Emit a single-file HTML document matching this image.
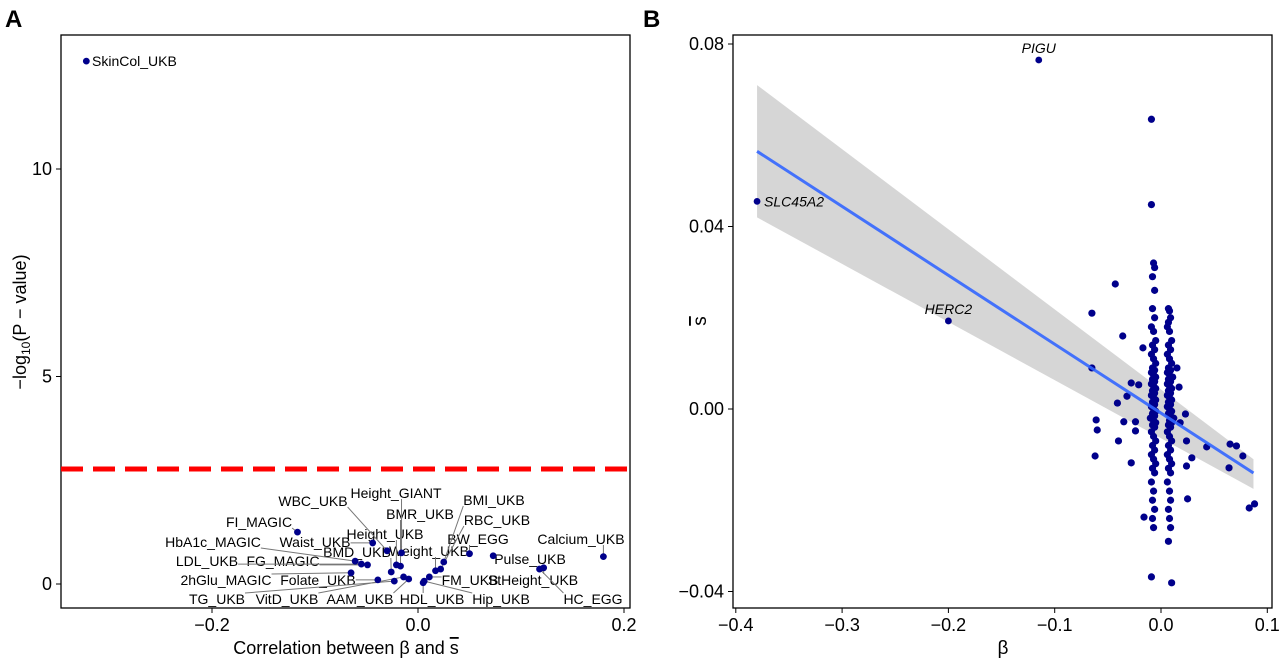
<!DOCTYPE html>
<html><head><meta charset="utf-8"><style>
html,body{margin:0;padding:0;background:#fff;}
svg{display:block;font-family:"Liberation Sans",sans-serif;}
</style></head><body>
<svg id="fig" width="1280" height="658" viewBox="0 0 1280 658">
<text x="5" y="27" font-size="24" font-weight="bold">A</text>
<text x="643" y="27" font-size="24" font-weight="bold">B</text>
<g id="pa"></g>
<g id="pb"></g>
</svg>
<script>
// ---------- Panel A data ----------
const aTraits = ["SkinCol_UKB","FI_MAGIC","Waist_UKB","HbA1c_MAGIC","LDL_UKB","FG_MAGIC","2hGlu_MAGIC","Folate_UKB","BMD_UKB","Height_UKB","WBC_UKB","Height_GIANT","BMR_UKB","TG_UKB","VitD_UKB","AAM_UKB","HDL_UKB","Hip_UKB","FM_UKB","Weight_UKB","RBC_UKB","BMI_UKB","BW_EGG","Pulse_UKB","StHeight_UKB","Calcium_UKB","HC_EGG"];
const aCorr = [-0.322,-0.117,-0.044,-0.061,-0.055,-0.049,-0.065,-0.039,-0.026,-0.021,-0.030,-0.016,-0.017,-0.023,-0.014,-0.009,0.005,0.006,0.011,0.017,0.022,0.025,0.050,0.073,0.122,0.180,0.118];
const aLogP = [12.6,1.25,0.99,0.55,0.48,0.46,0.27,0.10,0.29,0.46,0.80,0.75,0.43,0.07,0.17,0.12,0.03,0.07,0.17,0.32,0.36,0.53,0.73,0.68,0.39,0.66,0.36];
const aXTicks = [-0.2,0.0,0.2];
const aXTickLabels = ["−0.2","0.0","0.2"];
const aYTicks = [0,5,10];
const aThreshold = 2.77;
// label anchor positions (layout, pixels)
const aLabelPos = [[92,61,"start"],[259,522],[315,542],[213,542],[207,561],[283,561],[226,580],[318,580],[357,552],[385,534],[313,501],[396,493],[420,514],[217,599],[287,599],[360,599],[432,599],[501,599],[470,580],[429,551],[497,520],[494,500],[478,539],[530,559],[533,580],[581,539],[593,599]];

// ---------- Panel B data ----------
const bLabeled = [["PIGU",-0.115,0.0765],["SLC45A2",-0.38,0.0455],["HERC2",-0.2,0.0193]];
const bScatter = [[-0.043,0.0274],[-0.065,0.021],[-0.036,0.016],[-0.017,0.0134],[-0.065,0.009],[-0.028,0.0057],[-0.021,0.0053],[-0.032,0.0028],[-0.041,0.0013],[-0.061,-0.0024],[-0.060,-0.0046],[-0.035,-0.0028],[-0.024,-0.0028],[-0.024,-0.0048],[-0.040,-0.007],[-0.062,-0.0103],[-0.028,-0.0118],[0.024,-0.007],[0.029,-0.0107],[0.024,-0.0125],[0.025,-0.0197],[0.043,-0.0083],[0.065,-0.0077],[0.071,-0.0081],[0.077,-0.0103],[0.064,-0.0129],[0.083,-0.0217],[0.088,-0.0208],[0.018,-0.003],[0.023,-0.0011],[0.017,0.0048],[0.015,0.009],[-0.016,-0.0237],[-0.009,-0.0368],[0.010,-0.0381],[0.007,-0.029],[-0.009,0.0635],[-0.009,0.0448],[-0.007,0.032],[-0.006,0.031],[-0.008,0.029],[-0.006,0.026],[0.008,0.0215],[0.007,0.019]];
const bLeftCol = [[-0.008,0.022],[-0.006,0.020],[-0.009,0.018],[-0.007,0.017],[-0.005,0.015],[-0.008,0.014],[-0.006,0.013],[-0.009,0.012],[-0.007,0.011],[-0.005,0.010],[-0.008,0.009],[-0.006,0.0085],[-0.009,0.008],[-0.007,0.0075],[-0.005,0.007],[-0.008,0.0065],[-0.006,0.006],[-0.009,0.0055],[-0.007,0.005],[-0.005,0.0045],[-0.008,0.004],[-0.006,0.0035],[-0.009,0.003],[-0.007,0.0025],[-0.005,0.002],[-0.008,0.0015],[-0.006,0.001],[-0.009,0.0005],[-0.007,0.0],[-0.005,-0.0005],[-0.008,-0.001],[-0.006,-0.0015],[-0.01,-0.002],[-0.007,-0.0025],[-0.005,-0.003],[-0.008,-0.0035],[-0.006,-0.004],[-0.009,-0.005],[-0.007,-0.006],[-0.005,-0.007],[-0.008,-0.008],[-0.006,-0.009],[-0.009,-0.010],[-0.007,-0.011],[-0.005,-0.012],[-0.008,-0.013],[-0.006,-0.014],[-0.009,-0.016],[-0.007,-0.018],[-0.008,-0.020],[-0.006,-0.022],[-0.008,-0.024],[-0.007,-0.026]];
const bRightCol = [[0.007,0.022],[0.009,0.020],[0.006,0.018],[0.008,0.017],[0.010,0.015],[0.007,0.014],[0.009,0.013],[0.006,0.012],[0.008,0.011],[0.010,0.010],[0.007,0.009],[0.009,0.0085],[0.006,0.008],[0.008,0.0075],[0.011,0.007],[0.007,0.0065],[0.009,0.006],[0.006,0.0055],[0.008,0.005],[0.010,0.0045],[0.007,0.004],[0.009,0.0035],[0.006,0.003],[0.008,0.0025],[0.010,0.002],[0.007,0.0015],[0.009,0.001],[0.006,0.0005],[0.008,0.0],[0.010,-0.0005],[0.007,-0.001],[0.009,-0.0015],[0.012,-0.002],[0.008,-0.0025],[0.010,-0.003],[0.007,-0.0035],[0.009,-0.004],[0.006,-0.005],[0.008,-0.006],[0.010,-0.007],[0.007,-0.008],[0.009,-0.009],[0.006,-0.010],[0.008,-0.011],[0.010,-0.012],[0.007,-0.013],[0.009,-0.014],[0.006,-0.016],[0.008,-0.018],[0.009,-0.020],[0.007,-0.022],[0.008,-0.024],[0.009,-0.026]];
const bFitX = [-0.38,0.087];
const bFitSlope = -0.151;
const bFitIntercept = -0.0009;
const bBandUpper = [0.071,-0.011];
const bBandLower = [0.042,-0.0175];
const bXTicks = [-0.4,-0.3,-0.2,-0.1,0.0,0.1];
const bXTickLabels = ["−0.4","−0.3","−0.2","−0.1","0.0","0.1"];
const bYTicks = [0.08,0.04,0.0,-0.04];
const bYTickLabels = ["0.08","0.04","0.00","−0.04"];

const NS="http://www.w3.org/2000/svg";
function mk(parent,tag,attrs){const e=document.createElementNS(NS,tag);for(const k in attrs)e.setAttribute(k,attrs[k]);parent.appendChild(e);return e;}

// ---------- Panel A ----------
const pa=document.getElementById('pa');
const ax=v=>418+v*1030, ay=v=>584-v*41.5;
const aBox=mk(pa,'rect',{x:61,y:35,width:569,height:573,fill:'none',stroke:'#000','stroke-width':1.3});


const thr=mk(pa,'line',{x1:61,x2:630,y1:ay(aThreshold),y2:ay(aThreshold),stroke:'#f00','stroke-width':5,'stroke-dasharray':'22 10'});


aXTicks.forEach((t,i)=>{
  const tk=mk(pa,'line',{x1:ax(t),x2:ax(t),y1:608,y2:613,stroke:'#000'});
  
  
  const tl=mk(pa,'text',{x:ax(t),y:631,'font-size':18,'text-anchor':'middle'});tl.textContent=aXTickLabels[i];
  
  
});
aYTicks.forEach(t=>{
  const tk=mk(pa,'line',{x1:56,x2:61,y1:ay(t),y2:ay(t),stroke:'#000'});
  
  
  const tl=mk(pa,'text',{x:52,y:ay(t)+6,'font-size':18,'text-anchor':'end'});tl.textContent=String(t);
  
  
});
const axl=mk(pa,'text',{x:346,y:654,'font-size':18,'text-anchor':'middle'});
axl.innerHTML='Correlation between β and <tspan text-decoration="overline">s</tspan>';


const ayl=mk(pa,'text',{transform:'translate(26,322) rotate(-90)','font-size':18,'text-anchor':'middle'});
ayl.innerHTML='−log<tspan font-size="12" dy="4">10</tspan><tspan dy="-4">(P − value)</tspan>';


const labG=mk(pa,'g',{});
const lineG=mk(pa,'g',{});
const ptG=mk(pa,'g',{});
aTraits.forEach((n,i)=>{
  const px=ax(aCorr[i]), py=ay(aLogP[i]);
  const lp=aLabelPos[i];
  const t=mk(labG,'text',{x:lp[0],y:lp[1]+5,'font-size':14,'text-anchor':lp[2]||'middle'});t.textContent=n;
  
  
  if(i>0){
    const b=t.getBBox();
    const cx=Math.max(b.x,Math.min(px,b.x+b.width)), cy=Math.max(b.y+2,Math.min(py,b.y+b.height-2));
    const d=Math.hypot(px-cx,py-cy);
    if(d>6){
      const l=mk(lineG,'line',{x1:cx,y1:cy,x2:px,y2:py,stroke:'#777','stroke-width':1});
      
      
    }
  }
  const c=mk(ptG,'circle',{cx:px,cy:py,r:3.4,fill:'#00008b'});
  
  
});

// ---------- Panel B ----------
const pb=document.getElementById('pb');
const bx=v=>1161+v*1063, by=v=>409-v*4562.5;
const band=mk(pb,'polygon',{points:[[bx(bFitX[0]),by(bBandUpper[0])],[bx(bFitX[1]),by(bBandUpper[1])],[bx(bFitX[1]),by(bBandLower[1])],[bx(bFitX[0]),by(bBandLower[0])]].map(p=>p.join(',')).join(' '),fill:'#999','fill-opacity':0.4});


const ptB=mk(pb,'g',{});
[...bScatter,...bLeftCol,...bRightCol].forEach(p=>{
  const c=mk(ptB,'circle',{cx:bx(p[0]),cy:by(p[1]),r:3.6,fill:'#00008b'});
  
  
});
bLabeled.forEach(p=>{
  const c=mk(ptB,'circle',{cx:bx(p[1]),cy:by(p[2]),r:3.4,fill:'#00008b'});
  
  
  let x=bx(p[1]),y=by(p[2]),anchor='middle';
  if(p[0]==='SLC45A2'){x+=7;y+=5;anchor='start';} else {y-=7;}
  const t=mk(pb,'text',{x:x,y:y,'font-size':14,'font-style':'italic','text-anchor':anchor});t.textContent=p[0];
  
  
});
const fit=mk(pb,'line',{x1:bx(bFitX[0]),y1:by(bFitIntercept+bFitSlope*bFitX[0]),x2:bx(bFitX[1]),y2:by(bFitIntercept+bFitSlope*bFitX[1]),stroke:'#3366ff','stroke-width':3,'stroke-opacity':0.9});


const bBox=mk(pb,'rect',{x:733,y:35,width:539,height:573,fill:'none',stroke:'#000','stroke-width':1.3});


bXTicks.forEach((t,i)=>{
  const tk=mk(pb,'line',{x1:bx(t),x2:bx(t),y1:608,y2:613,stroke:'#000'});
  
  
  const tl=mk(pb,'text',{x:bx(t),y:631,'font-size':18,'text-anchor':'middle'});tl.textContent=bXTickLabels[i];
  
  
});
bYTicks.forEach((t,i)=>{
  const tk=mk(pb,'line',{x1:728,x2:733,y1:by(t),y2:by(t),stroke:'#000'});
  
  
  const tl=mk(pb,'text',{x:724,y:by(t)+6,'font-size':18,'text-anchor':'end'});tl.textContent=bYTickLabels[i];
  
  
});
const bxl=mk(pb,'text',{x:1003,y:654,'font-size':19,'text-anchor':'middle'});bxl.textContent='β';


const byl=mk(pb,'text',{transform:'translate(706,321) rotate(-90)','font-size':19,'text-anchor':'middle','text-decoration':'overline'});byl.textContent='s';


</script>
</body></html>
